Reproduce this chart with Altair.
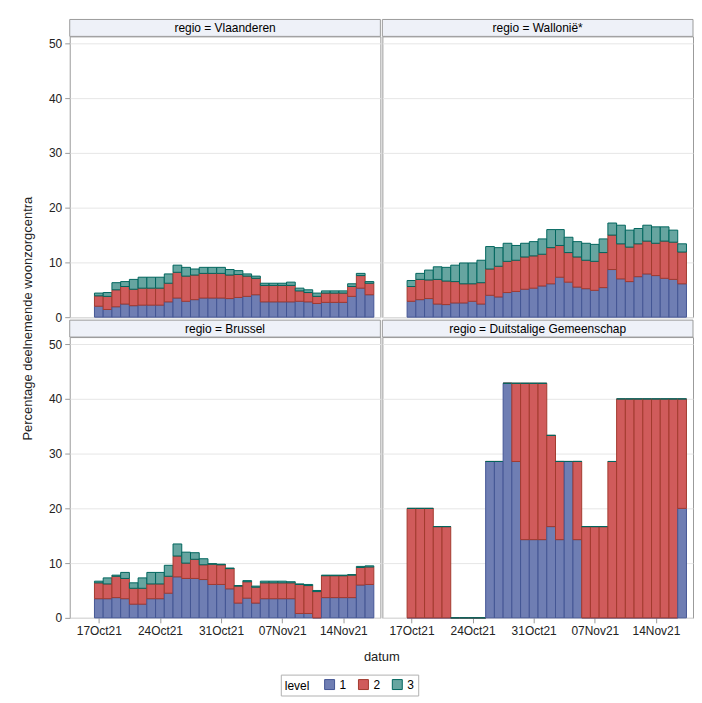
import altair as alt
import pandas as pd

# ---- data ----
dates = [d.strftime("%Y-%m-%d") for d in pd.date_range("2021-10-17", "2021-11-17", freq="D")]
levels = ["1", "2", "3"]
regions = ["Vlaanderen", "Wallonië*", "Brussel", "Duitstalige Gemeenschap"]

vla_l1 = [2.0, 1.4, 1.9, 2.4, 2.1, 2.2, 2.2, 2.2, 2.8, 3.5, 2.9, 3.2, 3.5, 3.5, 3.5, 3.4,
          3.6, 3.8, 4.1, 2.8, 2.8, 2.8, 2.8, 2.9, 2.8, 2.5, 2.7, 2.7, 2.7, 3.8, 5.3, 4.1]
vla_l2 = [1.9, 2.4, 3.1, 3.2, 3.0, 3.1, 3.1, 3.1, 3.4, 4.7, 4.6, 4.5, 4.5, 4.5, 4.5, 4.3,
          4.2, 3.7, 3.0, 3.0, 3.0, 3.0, 3.0, 1.9, 1.7, 1.3, 1.7, 1.7, 1.7, 1.8, 2.3, 2.1]
vla_l3 = [0.5, 0.7, 1.3, 0.9, 1.8, 2.0, 2.0, 2.0, 1.7, 1.3, 1.6, 1.1, 1.1, 1.1, 1.1, 1.0,
          0.7, 0.4, 0.4, 0.4, 0.4, 0.4, 0.6, 0.5, 0.5, 0.6, 0.4, 0.4, 0.4, 0.5, 0.4, 0.3]

wal_l1 = [2.9, 3.2, 3.4, 2.4, 2.3, 2.6, 2.6, 2.9, 2.4, 4.0, 3.7, 4.5, 4.7, 5.1, 5.3, 5.7,
          6.1, 7.3, 6.4, 5.5, 5.2, 4.9, 5.4, 8.7, 7.0, 6.5, 7.4, 7.9, 7.6, 7.1, 6.9, 6.1]
wal_l2 = [2.7, 3.7, 3.4, 4.5, 4.3, 3.9, 3.5, 3.2, 3.9, 4.8, 5.6, 5.7, 5.7, 5.9, 5.9, 5.8,
          6.6, 5.8, 5.4, 5.5, 5.2, 5.3, 6.4, 6.3, 6.4, 6.3, 6.0, 6.0, 5.9, 6.8, 6.8, 5.8]
wal_l3 = [1.1, 1.1, 1.8, 2.3, 2.5, 3.0, 3.8, 3.8, 4.1, 4.1, 3.4, 3.3, 2.7, 2.5, 2.6, 2.8,
          3.3, 2.9, 2.8, 2.8, 3.1, 3.1, 2.5, 2.2, 3.4, 3.1, 2.8, 2.9, 3.0, 2.6, 2.2, 1.5]

bru_l1 = [3.5, 3.5, 3.7, 3.5, 2.5, 2.5, 3.5, 3.5, 4.5, 7.5, 7.2, 7.2, 7.0, 6.1, 6.1, 5.3,
          2.7, 3.6, 2.7, 3.5, 3.5, 3.5, 3.5, 0.8, 0.8, 0.0, 3.7, 3.7, 3.7, 3.7, 6.0, 6.1]
bru_l2 = [2.9, 2.7, 3.9, 3.7, 2.9, 2.9, 2.7, 2.7, 3.1, 3.8, 2.8, 3.5, 2.7, 3.7, 3.6, 3.7,
          3.1, 3.0, 2.9, 2.9, 2.9, 2.9, 2.9, 5.3, 5.1, 4.8, 4.0, 4.0, 4.0, 4.1, 3.2, 3.2]
bru_l3 = [0.3, 1.1, 0.2, 1.1, 1.0, 1.9, 2.1, 2.1, 2.0, 2.2, 2.0, 1.2, 1.1, 0.1, 0.1, 0.1,
          0.1, 0.2, 0.2, 0.3, 0.3, 0.3, 0.2, 0.1, 0.2, 0.2, 0.1, 0.1, 0.1, 0.1, 0.2, 0.2]

dg_l1 = [0, 0, 0, 0, 0, 0, 0, 0, 0, 28.57, 28.57, 42.86, 28.57, 14.29, 14.29, 14.29,
         16.67, 14.29, 28.57, 14.29, 0, 0, 0, 0, 0, 0, 0, 0, 0, 0, 0, 20.0]
dg_l2 = [20.0, 20.0, 20.0, 16.67, 16.67, 0, 0, 0, 0, 0, 0, 0, 14.29, 28.57, 28.57, 28.57,
         16.67, 14.29, 0, 14.29, 16.67, 16.67, 16.67, 28.57, 40.0, 40.0, 40.0, 40.0, 40.0, 40.0, 40.0, 20.0]
dg_l3 = [0] * 32

series = {
    "Vlaanderen": (vla_l1, vla_l2, vla_l3),
    "Wallonië*": (wal_l1, wal_l2, wal_l3),
    "Brussel": (bru_l1, bru_l2, bru_l3),
    "Duitstalige Gemeenschap": (dg_l1, dg_l2, dg_l3),
}

rows = []
for reg, arrs in series.items():
    for i, d in enumerate(dates):
        t = pd.Timestamp(d)
        s = (t - pd.Timedelta(hours=12)).strftime("%Y-%m-%dT%H:%M:%S")
        e = (t + pd.Timedelta(hours=12)).strftime("%Y-%m-%dT%H:%M:%S")
        for lev, arr in zip(levels, arrs):
            rows.append({"regio": reg, "start": s, "end": e, "level": lev, "pct": arr[i]})
df = pd.DataFrame(rows)

# ---- styling ----
FONT = "Liberation Sans"
W, H, HDR = 312, 282, 17
FRAME = "#9a9a9a"
HDR_FILL = "#eef1f8"
fills = ["#6F7EB3", "#D05B5B", "#66A5A0"]
strokes = ["#445694", "#A23A2E", "#01665E"]

xscale = alt.Scale(domain=[alt.DateTime(year=2021, month=10, date=13, hours=16),
                           alt.DateTime(year=2021, month=11, date=18, hours=6)])
yscale = alt.Scale(domain=[0, 51.3], nice=False, zero=True)
tick_vals = [alt.DateTime(year=2021, month=10, date=17), alt.DateTime(year=2021, month=10, date=24),
             alt.DateTime(year=2021, month=10, date=31), alt.DateTime(year=2021, month=11, date=7),
             alt.DateTime(year=2021, month=11, date=14)]

legend = alt.Legend(orient="none", legendX=212, legendY=641, direction="horizontal",
                    titleOrient="left", title="level", symbolType="square", symbolSize=100,
                    symbolStrokeWidth=1, strokeColor="#b0b0b0", padding=4,
                    columnPadding=10, labelFont=FONT, titleFont=FONT, labelFontSize=12,
                    titleFontSize=12, titleFontWeight="normal", titlePadding=14)


def panel(name, left, bottom):
    sub = df[df.regio == name]
    if bottom:
        xaxis = alt.Axis(values=tick_vals, format="%d%b%y", grid=False, domain=False,
                         tickSize=5, labelPadding=3, tickColor=FRAME,
                         title="datum" if left else None, titleX=313, titlePadding=14)
    else:
        xaxis = None
    if left:
        yaxis = alt.Axis(values=[0, 10, 20, 30, 40, 50], domain=False, tickSize=5,
                         tickColor=FRAME, labelPadding=3,
                         title="Percentage deelnemende woonzorgcentra" if not bottom else None,
                         titleY=283, titlePadding=14)
    else:
        yaxis = alt.Axis(values=[0, 10, 20, 30, 40, 50], domain=False, labels=False,
                         ticks=False, title=None)
    bars = alt.Chart(sub).transform_stack(
        stack="pct", groupby=["start"], as_=["y0", "y1"],
        sort=[alt.SortField("level", order="ascending")], offset="zero",
    ).mark_bar(strokeWidth=1).encode(
        x=alt.X("start:T", scale=xscale, axis=xaxis),
        x2="end:T",
        y=alt.Y("y0:Q", scale=yscale, axis=yaxis),
        y2="y1:Q",
        fill=alt.Fill("level:N", scale=alt.Scale(domain=levels, range=fills), legend=legend),
        stroke=alt.Stroke("level:N", scale=alt.Scale(domain=levels, range=strokes), legend=legend),
    )
    hdr_df = pd.DataFrame({"label": ["regio = " + name]})
    rect = alt.Chart(hdr_df).mark_rect(fill=HDR_FILL, stroke=FRAME, strokeWidth=1).encode(
        x=alt.value(0), x2=alt.value(W), y=alt.value(-HDR), y2=alt.value(0))
    txt = alt.Chart(hdr_df).mark_text(font=FONT, fontSize=12, color="#000000",
                                      baseline="middle", align="center").encode(
        x=alt.value(W / 2), y=alt.value(-HDR / 2), text="label:N")
    return alt.layer(bars, rect, txt).properties(width=W, height=H)


chart = alt.concat(
    panel("Vlaanderen", True, False),
    panel("Wallonië*", False, False),
    panel("Brussel", True, True),
    panel("Duitstalige Gemeenschap", False, True),
    columns=2,
    spacing={"row": 20, "column": 2},
    bounds="flush",
).properties(
    padding={"left": 13, "top": 9, "right": 0, "bottom": 2}
).configure_view(
    stroke=FRAME, strokeWidth=1
).configure_axis(
    labelFont=FONT, titleFont=FONT, labelFontSize=12, titleFontSize=13,
    titleFontWeight="normal", labelColor="#222222", titleColor="#222222",
    gridColor="#e6e6e6", gridWidth=1
)

chart.save("out.html", embed_options={"renderer": "svg", "actions": False})
